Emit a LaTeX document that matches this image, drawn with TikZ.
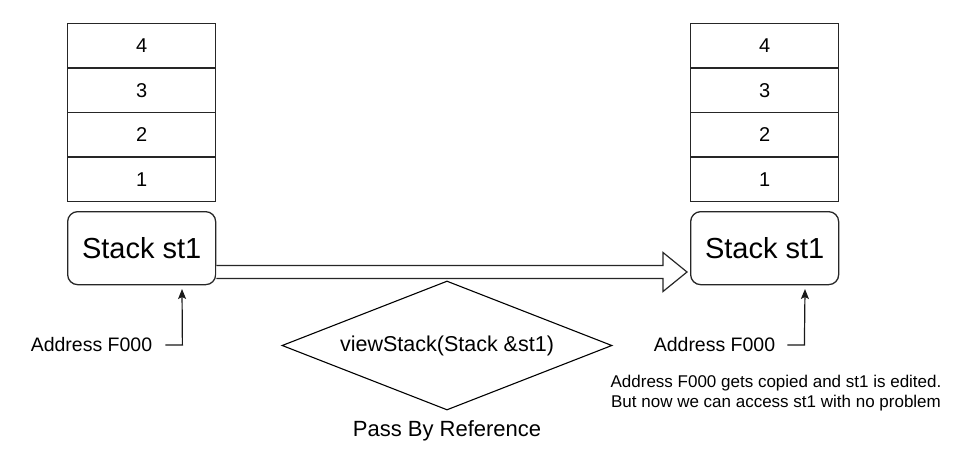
\documentclass[tikz,border=0pt]{standalone}
\usepackage{fontspec}
\setmainfont{Liberation Sans}
\usetikzlibrary{calc,shapes.geometric,arrows.meta}
\begin{document}
\begin{tikzpicture}[x=1pt,y=-1pt,
  ln/.style={draw=black!85,line width=1.3pt},
  cell/.style={ln,minimum width=148pt,minimum height=44.5pt,inner sep=0pt,font=\fontsize{20}{24}\selectfont,anchor=north west},
  sbox/.style={ln,rounded corners=10pt,minimum width=148pt,minimum height=73pt,inner sep=0pt,font=\fontsize{29}{34}\selectfont,anchor=north west},
  addr/.style={inner sep=0pt,font=\fontsize{19.5}{23}\selectfont},
  ptr/.style={draw=black!90,line width=1.2pt,-{Stealth[length=10pt,width=8pt,inset=2pt]}}]
\useasboundingbox (0,0) rectangle (965,465);
% left stack
\node[cell] (l4) at (67,23) {4};
\node[cell] (l3) at (67,67.5) {3};
\node[cell] (l2) at (67,112) {2};
\node[cell] (l1) at (67,156.5) {1};
\node[sbox] (ls) at (67,211) {Stack st1};
% right stack
\node[cell] (r4) at (690,23) {4};
\node[cell] (r3) at (690,67.5) {3};
\node[cell] (r2) at (690,112) {2};
\node[cell] (r1) at (690,156.5) {1};
\node[sbox] (rs) at (690,211) {Stack st1};
% block arrow
\coordinate (ta) at ($(ls.north east)+(0,61)$);
\coordinate (tb) at ($(rs.north west)+(-3,61)$);
\draw[ln,line width=1.2pt,fill=white] ($(ta)+(0,-6.5)$) -- ($(tb)+(-24,-6.5)$) -- ($(tb)+(-24,-19.5)$) -- (tb)
  -- ($(tb)+(-24,19.5)$) -- ($(tb)+(-24,6.5)$) -- ($(ta)+(0,6.5)$);
% diamond
\node[draw=black,line width=1.1pt,shape=diamond,minimum width=330pt,minimum height=129pt,inner sep=0pt,shape aspect=2.56,font=\fontsize{21.5}{26}\selectfont] (fn) at (447,345.5) {viewStack(Stack \&st1)};
\node[font=\fontsize{22}{26}\selectfont,inner sep=0pt] (pbr) at (447,431) {Pass By Reference};
% addresses
\node[addr] (al) at (91.5,345) {Address F000};
\coordinate (lt) at (182,289);
\draw[ptr] ([xshift=13pt]al.east) -- ++(17,0) -- (lt);
\node[addr] (ar) at (714.5,345) {Address F000};
\coordinate (rt) at (805,289);
\draw[ptr] ([xshift=12pt]ar.east) -- ++(17,0) -- (rt);
% note
\node[inner sep=0pt,align=center,font=\fontsize{17}{20}\selectfont] (note) at (776,393) {Address F000 gets copied and st1 is edited.\\But now we can access st1 with no problem};
\end{tikzpicture}
\end{document}
